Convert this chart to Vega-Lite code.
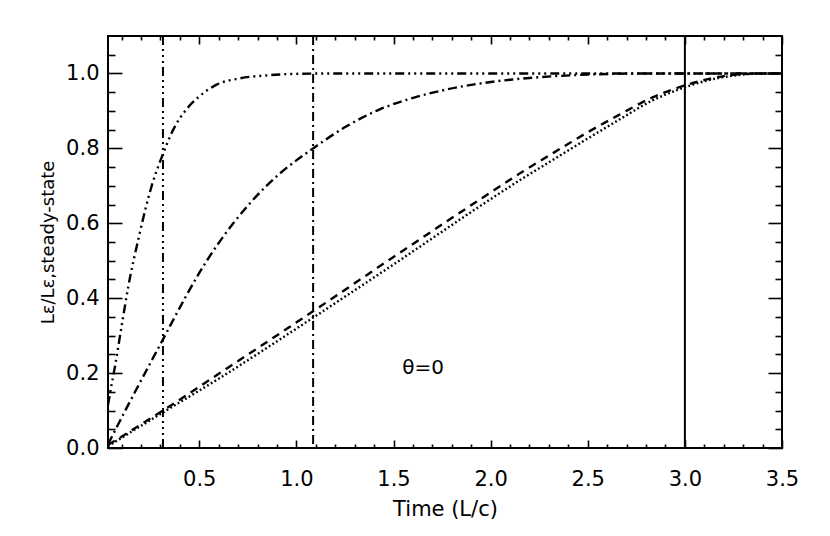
{
  "$schema": "https://vega.github.io/schema/vega-lite/v6.json",
  "autosize": {"type": "none"},
  "padding": {"left": 108, "top": 36, "right": 48, "bottom": 88},
  "width": 674,
  "height": 412,
  "background": "white",
  "config": {
    "view": {"stroke": "black", "strokeWidth": 2},
    "axis": {
      "domain": false,
      "grid": false,
      "tickColor": "black",
      "tickWidth": 1.6,
      "labelColor": "black",
      "labelFont": "DejaVu Sans",
      "labelFontSize": 21,
      "titleFont": "DejaVu Sans",
      "titleFontWeight": "normal",
      "titleColor": "black",
      "labelFlush": false,
      "labelOverlap": false
    }
  },
  "resolve": {"axis": {"x": "independent", "y": "independent"}},
  "layer": [
    {
      "data": {
        "values": [
          {"t": 0.03, "v": 0.115, "s": "a"},
          {"t": 0.04, "v": 0.145, "s": "a"},
          {"t": 0.066, "v": 0.218, "s": "a"},
          {"t": 0.1, "v": 0.325, "s": "a"},
          {"t": 0.134, "v": 0.43, "s": "a"},
          {"t": 0.186, "v": 0.557, "s": "a"},
          {"t": 0.255, "v": 0.7, "s": "a"},
          {"t": 0.313, "v": 0.785, "s": "a"},
          {"t": 0.366, "v": 0.85, "s": "a"},
          {"t": 0.435, "v": 0.905, "s": "a"},
          {"t": 0.503, "v": 0.94, "s": "a"},
          {"t": 0.589, "v": 0.97, "s": "a"},
          {"t": 0.709, "v": 0.987, "s": "a"},
          {"t": 0.853, "v": 0.995, "s": "a"},
          {"t": 1.0, "v": 0.999, "s": "a"},
          {"t": 1.2, "v": 1.0, "s": "a"},
          {"t": 3.5, "v": 1.0, "s": "a"},
          {"t": 0.03, "v": 0.01, "s": "b"},
          {"t": 0.134, "v": 0.115, "s": "b"},
          {"t": 0.313, "v": 0.29, "s": "b"},
          {"t": 0.426, "v": 0.4, "s": "b"},
          {"t": 0.503, "v": 0.47, "s": "b"},
          {"t": 0.59, "v": 0.54, "s": "b"},
          {"t": 0.675, "v": 0.6, "s": "b"},
          {"t": 0.76, "v": 0.653, "s": "b"},
          {"t": 0.846, "v": 0.7, "s": "b"},
          {"t": 0.915, "v": 0.733, "s": "b"},
          {"t": 1.0, "v": 0.768, "s": "b"},
          {"t": 1.086, "v": 0.8, "s": "b"},
          {"t": 1.258, "v": 0.859, "s": "b"},
          {"t": 1.429, "v": 0.904, "s": "b"},
          {"t": 1.601, "v": 0.935, "s": "b"},
          {"t": 1.772, "v": 0.957, "s": "b"},
          {"t": 1.943, "v": 0.973, "s": "b"},
          {"t": 2.113, "v": 0.984, "s": "b"},
          {"t": 2.253, "v": 0.99, "s": "b"},
          {"t": 2.5, "v": 0.997, "s": "b"},
          {"t": 2.8, "v": 1.0, "s": "b"},
          {"t": 3.5, "v": 1.0, "s": "b"},
          {"t": 0.03, "v": 0.008, "s": "c"},
          {"t": 0.313, "v": 0.1, "s": "c"},
          {"t": 0.6, "v": 0.198, "s": "c"},
          {"t": 0.915, "v": 0.306, "s": "c"},
          {"t": 1.086, "v": 0.365, "s": "c"},
          {"t": 1.5, "v": 0.51, "s": "c"},
          {"t": 1.943, "v": 0.663, "s": "c"},
          {"t": 2.153, "v": 0.734, "s": "c"},
          {"t": 2.323, "v": 0.788, "s": "c"},
          {"t": 2.493, "v": 0.841, "s": "c"},
          {"t": 2.663, "v": 0.89, "s": "c"},
          {"t": 2.833, "v": 0.936, "s": "c"},
          {"t": 3.0, "v": 0.968, "s": "c"},
          {"t": 3.113, "v": 0.984, "s": "c"},
          {"t": 3.263, "v": 0.997, "s": "c"},
          {"t": 3.4, "v": 1.0, "s": "c"},
          {"t": 3.5, "v": 1.0, "s": "c"},
          {"t": 0.03, "v": 0.005, "s": "d"},
          {"t": 0.313, "v": 0.095, "s": "d"},
          {"t": 0.6, "v": 0.185, "s": "d"},
          {"t": 0.915, "v": 0.29, "s": "d"},
          {"t": 1.086, "v": 0.348, "s": "d"},
          {"t": 1.5, "v": 0.49, "s": "d"},
          {"t": 1.943, "v": 0.645, "s": "d"},
          {"t": 2.153, "v": 0.716, "s": "d"},
          {"t": 2.323, "v": 0.77, "s": "d"},
          {"t": 2.493, "v": 0.824, "s": "d"},
          {"t": 2.663, "v": 0.877, "s": "d"},
          {"t": 2.833, "v": 0.928, "s": "d"},
          {"t": 3.0, "v": 0.963, "s": "d"},
          {"t": 3.113, "v": 0.981, "s": "d"},
          {"t": 3.263, "v": 0.995, "s": "d"},
          {"t": 3.4, "v": 1.0, "s": "d"},
          {"t": 3.5, "v": 1.0, "s": "d"}
        ]
      },
      "mark": {"type": "line", "interpolate": "monotone", "strokeWidth": 2.4, "color": "black", "strokeCap": "butt", "clip": true},
      "encoding": {
        "x": {
          "field": "t", "type": "quantitative",
          "scale": {"domain": [0.03, 3.5], "nice": false, "zero": false},
          "axis": {
            "orient": "bottom",
            "title": "Time (L/c)",
            "titleFontSize": 21,
            "titlePadding": 5,
            "values": [0.1,0.2,0.3,0.4,0.5,0.6,0.7,0.8,0.9,1.0,1.1,1.2,1.3,1.4,1.5,1.6,1.7,1.8,1.9,2.0,2.1,2.2,2.3,2.4,2.5,2.6,2.7,2.8,2.9,3.0,3.1,3.2,3.3,3.4,3.5],
            "labelExpr": "abs(datum.value*2-round(datum.value*2))<0.001 ? format(datum.value,'.1f') : ''",
            "tickSize": {"condition": {"test": "abs(datum.value*2-round(datum.value*2))<0.001", "value": -8}, "value": -4},
            "labelPadding": 28
          }
        },
        "y": {
          "field": "v", "type": "quantitative",
          "scale": {"domain": [0, 1.1], "nice": false, "zero": false},
          "axis": {
            "orient": "left",
            "title": "Lε/Lε,steady-state",
            "titleFontSize": 18,
            "titlePadding": 8,
            "values": [0,0.05,0.1,0.15,0.2,0.25,0.3,0.35,0.4,0.45,0.5,0.55,0.6,0.65,0.7,0.75,0.8,0.85,0.9,0.95,1.0,1.05],
            "labelExpr": "abs(datum.value*5-round(datum.value*5))<0.001 ? format(datum.value,'.1f') : ''",
            "tickSize": {"condition": {"test": "abs(datum.value*5-round(datum.value*5))<0.001", "value": -14}, "value": -7},
            "labelPadding": 23
          }
        },
        "strokeDash": {
          "field": "s", "type": "nominal", "legend": null,
          "scale": {"domain": ["a", "b", "c", "d", "e"], "range": [[9,4,2,4,2,4,2,4],[9,4,2,4],[8,6],[1.8,2.5],[1,0]]}
        }
      }
    },
    {
      "data": {"values": [{"t": 0.313, "s": "a"}, {"t": 1.086, "s": "b"}, {"t": 3.0, "s": "e"}]},
      "mark": {"type": "rule", "strokeWidth": 2, "color": "black", "strokeCap": "butt"},
      "encoding": {
        "x": {
          "field": "t", "type": "quantitative",
          "scale": {"domain": [0.03, 3.5], "nice": false, "zero": false},
          "axis": {
            "orient": "top",
            "title": null,
            "labels": false,
            "values": [0.1,0.2,0.3,0.4,0.5,0.6,0.7,0.8,0.9,1.0,1.1,1.2,1.3,1.4,1.5,1.6,1.7,1.8,1.9,2.0,2.1,2.2,2.3,2.4,2.5,2.6,2.7,2.8,2.9,3.0,3.1,3.2,3.3,3.4,3.5],
            "tickSize": {"condition": {"test": "abs(datum.value*2-round(datum.value*2))<0.001", "value": -8}, "value": -4}
          }
        },
        "strokeDash": {
          "field": "s", "type": "nominal", "legend": null,
          "scale": {"domain": ["a", "b", "c", "d", "e"], "range": [[9,4,2,4,2,4,2,4],[9,4,2,4],[8,6],[1.8,2.5],[1,0]]}
        }
      }
    },
    {
      "data": {"values": [{"t": 1.652, "v": 0.213, "label": "θ=0"}]},
      "mark": {"type": "text", "font": "DejaVu Sans", "fontSize": 20, "color": "black", "align": "center", "baseline": "middle"},
      "encoding": {
        "x": {
          "field": "t", "type": "quantitative",
          "scale": {"domain": [0.03, 3.5], "nice": false, "zero": false},
          "axis": null
        },
        "y": {
          "field": "v", "type": "quantitative",
          "scale": {"domain": [0, 1.1], "nice": false, "zero": false},
          "axis": {
            "orient": "right",
            "title": null,
            "labels": false,
            "values": [0,0.05,0.1,0.15,0.2,0.25,0.3,0.35,0.4,0.45,0.5,0.55,0.6,0.65,0.7,0.75,0.8,0.85,0.9,0.95,1.0,1.05],
            "tickSize": {"condition": {"test": "abs(datum.value*5-round(datum.value*5))<0.001", "value": -14}, "value": -7}
          }
        },
        "text": {"field": "label"}
      }
    }
  ]
}
